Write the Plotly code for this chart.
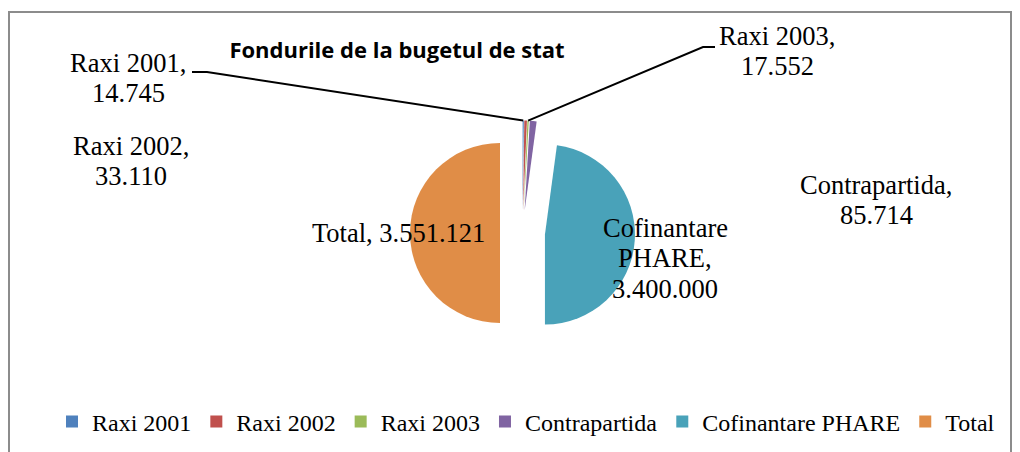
import math
import plotly.graph_objects as go

categories = ["Raxi 2001", "Raxi 2002", "Raxi 2003", "Contrapartida", "Cofinantare PHARE", "Total"]
values = [14745, 33110, 17552, 85714, 3400000, 3551121]
colors = ["#4F81BD", "#C0504D", "#9BBB59", "#8064A2", "#49A2B9", "#E08D47"]
title_text = "Fondurile de la bugetul de stat"

# the page body adds an 8px offset; the figure is sized so that it still covers the window
OFF = 8
W, H = 1012, 444


def px(x):
    # screen pixel -> paper fraction
    return (x - OFF) / W


def py(y):
    return 1 - (y - OFF) / H


# pie geometry (screen pixels)
CX, CY, R, PULL = 522.5, 233.0, 90.0, 0.25
half = R * (1 + PULL)

fig = go.Figure()
fig.add_trace(go.Pie(
    labels=categories,
    values=values,
    sort=False,
    direction="clockwise",
    rotation=0,
    pull=[PULL] * len(values),
    marker=dict(colors=colors, line=dict(width=0)),
    textinfo="none",
    hoverinfo="label+value",
    domain=dict(x=[px(CX - half), px(CX + half)], y=[py(CY + half), py(CY - half)]),
))


def fmt(v):
    return f"{v:,}".replace(",", ".")


# label block centres (screen pixels) and line layout
label_pos = [(128, 78), (131, 161), (777, 51), (876, 200), (665, 258), (398, 233)]
label_style = ["two", "two", "two", "two", "words", "inline"]
LINE = 30.5
FONT = "Liberation Serif, Times New Roman, serif"

annotations = []
for name, v, (lx, ly), st in zip(categories, values, label_pos, label_style):
    if st == "inline":
        lines = [f"{name}, {fmt(v)}"]
    elif st == "words":
        parts = name.split(" ")
        lines = parts[:-1] + [parts[-1] + ",", fmt(v)]
    else:
        lines = [name + ",", fmt(v)]
    n = len(lines)
    for i, t in enumerate(lines):
        yy = ly + (i - (n - 1) / 2) * LINE
        annotations.append(dict(
            x=px(lx), y=py(yy), xref="paper", yref="paper",
            text=t, showarrow=False, xanchor="center", yanchor="middle",
            font=dict(family=FONT, size=26.5, color="#000000"),
        ))

# leader lines to the small slices, endpoints computed from the data
total = sum(values)
cum = 0
mids = []
for v in values:
    mids.append(2 * math.pi * (cum + v / 2) / total)
    cum += v


def slice_tip(i):
    a = mids[i]
    return CX + half * math.sin(a), CY - half * math.cos(a)


shapes = []
leaders = {0: [(192, 72), (207, 72)], 2: [(715, 47), (703, 47)]}
for i, pts in leaders.items():
    tx, ty = slice_tip(i)
    allp = pts + [(tx, ty)]
    path = "M " + " L ".join(f"{px(x):.5f},{py(y):.5f}" for x, y in allp)
    shapes.append(dict(type="path", path=path, xref="paper", yref="paper",
                       line=dict(color="#000000", width=2)))

# chart frame
shapes.append(dict(type="rect", xref="paper", yref="paper",
                   x0=px(9), x1=px(1011), y0=py(480), y1=py(12),
                   line=dict(color="#8C8C8C", width=2), fillcolor="rgba(0,0,0,0)", layer="below"))

fig.update_layout(
    width=W, height=H,
    margin=dict(l=0, r=0, t=0, b=0),
    paper_bgcolor="#FFFFFF",
    plot_bgcolor="#FFFFFF",
    title=dict(text=f"<b>{title_text}</b>", x=px(397), y=py(50), xref="paper", yref="paper",
               xanchor="center", yanchor="middle",
               font=dict(family="Open Sans, sans-serif", size=22, color="#000000")),
    showlegend=True,
    legend=dict(orientation="h", x=px(526), xanchor="center", y=py(422), yanchor="middle",
                font=dict(family=FONT, size=24, color="#000000"),
                itemwidth=30, bgcolor="rgba(0,0,0,0)", traceorder="normal"),
    annotations=annotations,
    shapes=shapes,
)

fig.write_html("out.html")
